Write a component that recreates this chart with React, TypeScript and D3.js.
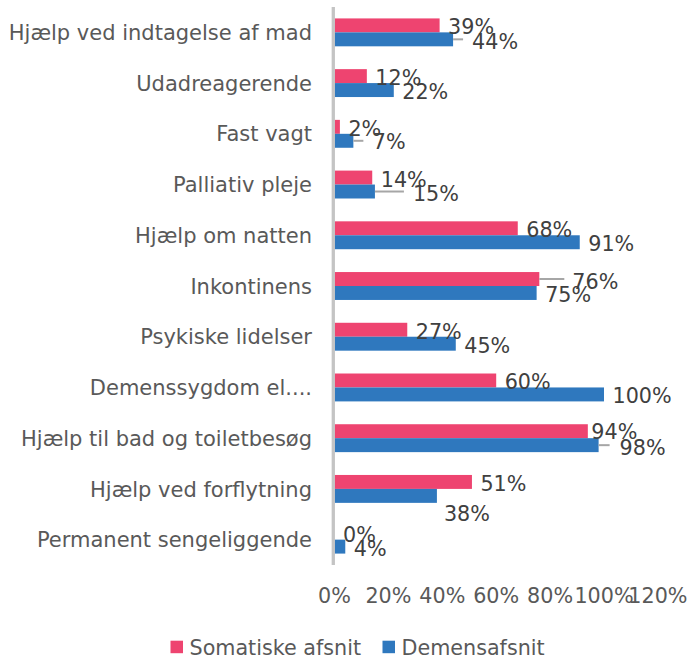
import React from "react";
import * as d3 from "d3";

const categories = [
  "Hjælp ved indtagelse af mad",
  "Udadreagerende",
  "Fast vagt",
  "Palliativ pleje",
  "Hjælp om natten",
  "Inkontinens",
  "Psykiske lidelser",
  "Demenssygdom el....",
  "Hjælp til bad og toiletbesøg",
  "Hjælp ved forflytning",
  "Permanent sengeliggende",
];
const somatiske = [39, 12, 2, 14, 68, 76, 27, 60, 94, 51, 0];
const demens = [44, 22, 7, 15, 91, 75, 45, 100, 98, 38, 4];
const xTicks = [0, 20, 40, 60, 80, 100, 120];
const seriesNames = ["Somatiske afsnit", "Demensafsnit"];
const colors = ["#ee4470", "#2f78be"];

// hand-moved labels in the original (offset from bar end / bar centre)
const labelMoves: Record<string, { dx: number; dy: number; leader?: number }> = {
  "1-0": { dx: 19, dy: 2, leader: 10 },
  "1-2": { dx: 19.5, dy: 0.5, leader: 10 },
  "1-3": { dx: 38, dy: 2, leader: 29 },
  "0-5": { dx: 33, dy: 2, leader: 25 },
  "0-8": { dx: 3.5, dy: 0.5 },
  "1-8": { dx: 21, dy: 2, leader: 11 },
  "1-9": { dx: 7, dy: 17.5 },
};

const W = 693;
const H = 659;
const FONT = "'DejaVu Sans', Verdana, sans-serif";

export default function App() {
  const x = d3.scaleLinear().domain([0, 100]).range([334.5, 604]);
  const y = d3
    .scaleBand<string>()
    .domain(categories)
    .range([7, 565])
    .paddingInner(0.45)
    .paddingOuter(0.225);
  const bh = y.bandwidth() / 2;

  const series = [somatiske, demens];

  return (
    <svg
      width={W}
      height={H}
      style={{ position: "absolute", left: 0, top: 0, background: "#fff" }}
      fontFamily={FONT}
    >
      {/* category labels */}
      {categories.map((c) => (
        <text
          key={c}
          x={312}
          y={(y(c) ?? 0) + y.bandwidth() / 2 + 7.6}
          textAnchor="end"
          fontSize={21}
          fill="#595959"
        >
          {c}
        </text>
      ))}

      {/* bars */}
      {series.map((vals, s) =>
        vals.map((v, i) => (
          <rect
            key={`b${s}-${i}`}
            x={x(0)}
            y={(y(categories[i]) ?? 0) + s * bh}
            width={x(v) - x(0)}
            height={bh}
            fill={colors[s]}
          />
        ))
      )}

      {/* axis line */}
      <line x1={333.3} x2={333.3} y1={7} y2={565} stroke="#c4c4c4" strokeWidth={3.3} />

      {/* leader lines */}
      {series.map((vals, s) =>
        vals.map((v, i) => {
          const m = labelMoves[`${s}-${i}`];
          if (!m || !m.leader) return null;
          const cy = (y(categories[i]) ?? 0) + s * bh + bh / 2;
          return (
            <line
              key={`l${s}-${i}`}
              x1={x(v)}
              x2={x(v) + m.leader}
              y1={cy}
              y2={cy}
              stroke="#a6a6a6"
              strokeWidth={2}
            />
          );
        })
      )}

      {/* data labels */}
      {series.map((vals, s) =>
        vals.map((v, i) => {
          const m = labelMoves[`${s}-${i}`] ?? { dx: 8.5, dy: 1.5 };
          const cy = (y(categories[i]) ?? 0) + s * bh + bh / 2;
          return (
            <text
              key={`t${s}-${i}`}
              x={x(v) + m.dx}
              y={cy + m.dy + 7.5}
              fontSize={20.7}
              fill="#404040"
            >
              {v}%
            </text>
          );
        })
      )}

      {/* x tick labels */}
      {xTicks.map((t) => (
        <text
          key={t}
          x={x(t)}
          y={602.5}
          textAnchor="middle"
          fontSize={20.7}
          fill="#595959"
        >
          {t}%
        </text>
      ))}

      {/* legend */}
      {seriesNames.map((n, s) => {
        const lx = [170.5, 382.5][s];
        return (
          <g key={n}>
            <rect x={lx} y={640.7} width={12.5} height={12.5} fill={colors[s]} />
            <text x={lx + 19} y={654.8} fontSize={20.7} fill="#595959">
              {n}
            </text>
          </g>
        );
      })}
    </svg>
  );
}
